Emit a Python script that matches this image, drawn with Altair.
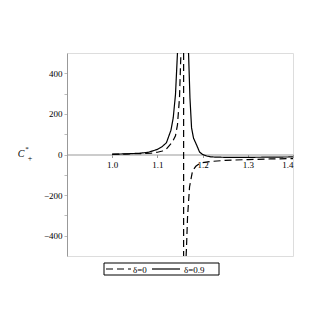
import altair as alt
import pandas as pd

# delta = 0.9 (solid)
solid_left_x = [1.00, 1.03, 1.06, 1.08, 1.10, 1.11, 1.12, 1.13, 1.135, 1.14, 1.1444]
solid_left_y = [1.5, 3, 6, 11, 25, 38, 58, 120, 180, 295, 500]
solid_right_x = [1.1689, 1.172, 1.1756, 1.18, 1.1867, 1.1933, 1.20, 1.21, 1.22, 1.25, 1.30, 1.35, 1.40]
solid_right_y = [500, 280, 131, 80, 47, 12, 0, -8, -12, -14, -14, -13, -12]

# delta = 0 (dashed)
dashed_left_x = [1.00, 1.04, 1.07, 1.0867, 1.10, 1.1111, 1.12, 1.1333, 1.14, 1.1444, 1.1489, 1.152]
dashed_left_y = [1, 3, 5, 7, 11, 17, 27, 62, 92, 146, 280, 500]
dashed_vert_x = [1.158, 1.158]
dashed_vert_y = [500, -500]
dashed_right_x = [1.1635, 1.1644, 1.1667, 1.1711, 1.1778, 1.185, 1.1933, 1.20, 1.22, 1.25, 1.30, 1.35, 1.40]
dashed_right_y = [-500, -456, -308, -160, -80, -58, -45, -40, -34, -29, -25, -22, -20]

series_names = ["δ=0", "δ=0.9"]

rows = []
def add(xs, ys, series, seg):
    for i, (x, y) in enumerate(zip(xs, ys)):
        rows.append({"x": x, "y": y, "series": series, "seg": seg, "i": i})

add(solid_left_x, solid_left_y, series_names[1], "s1")
add(solid_right_x, solid_right_y, series_names[1], "s2")
add(dashed_left_x, dashed_left_y, series_names[0], "d1")
add(dashed_vert_x, dashed_vert_y, series_names[0], "d2")
add(dashed_right_x, dashed_right_y, series_names[0], "d3")
df = pd.DataFrame(rows)

W, H = 226, 203
serif = "Liberation Serif"
DASH = [7, 4]

lines = alt.Chart(df).mark_line(clip=True, color="black", strokeWidth=1.2).encode(
    x=alt.X("x:Q", scale=alt.Scale(domain=[0.9, 1.4], nice=False, zero=False),
            axis=alt.Axis(values=[1.0, 1.1, 1.2, 1.3, 1.4], format=".1f", offset=-H / 2,
                          title=None, grid=False, domainColor="#999999", tickColor="#999999",
                          tickSize=3, labelFont=serif, labelFontSize=9, labelPadding=3,
                          labelColor="black")),
    y=alt.Y("y:Q", scale=alt.Scale(domain=[-500, 500], nice=False),
            axis=alt.Axis(values=[-400, -300, -200, -100, 0, 100, 200, 300, 400],
                          labelExpr="datum.value % 200 == 0 ? datum.label : ''",
                          title=None, grid=False, domainColor="#999999", tickColor="#bbbbbb",
                          tickSize=3, labelFont=serif, labelFontSize=9, labelPadding=2,
                          labelColor="black")),
    strokeDash=alt.StrokeDash("series:N",
                              scale=alt.Scale(domain=series_names, range=[DASH, [1, 0]]),
                              legend=None),
    detail="seg:N",
    order="i:Q",
)

# y-axis title C*_+
tdf = pd.DataFrame({"c": ["C"], "s": ["*"], "p": ["+"]})
tC = alt.Chart(tdf).mark_text(font=serif, fontSize=10, fontStyle="italic", color="black").encode(
    x=alt.value(-46), y=alt.value(101), text="c:N")
tS = alt.Chart(tdf).mark_text(font=serif, fontSize=7, color="black").encode(
    x=alt.value(-40), y=alt.value(96), text="s:N")
tP = alt.Chart(tdf).mark_text(font=serif, fontSize=8, color="black").encode(
    x=alt.value(-37), y=alt.value(106), text="p:N")

# legend box drawn below the plot
ldf = pd.DataFrame({"a": [series_names[0]], "b": [series_names[1]]})
box = alt.Chart(ldf).mark_rect(fill="white", stroke="black", strokeWidth=1).encode(
    x=alt.value(37), x2=alt.value(152), y=alt.value(210), y2=alt.value(222))
sym0 = alt.Chart(ldf).mark_rule(color="black", strokeWidth=1.2, strokeDash=DASH).encode(
    x=alt.value(39), x2=alt.value(64), y=alt.value(216))
sym1 = alt.Chart(ldf).mark_rule(color="black", strokeWidth=1.2).encode(
    x=alt.value(85), x2=alt.value(113), y=alt.value(216))
lab0 = alt.Chart(ldf).mark_text(font=serif, fontSize=9, color="black", align="left",
                                baseline="middle").encode(
    x=alt.value(66), y=alt.value(216.5), text="a:N")
lab1 = alt.Chart(ldf).mark_text(font=serif, fontSize=9, color="black", align="left",
                                baseline="middle").encode(
    x=alt.value(117), y=alt.value(216.5), text="b:N")

chart = alt.layer(lines, tC, tS, tP, box, sym0, sym1, lab0, lab1).properties(
    width=W, height=H,
    autosize=alt.AutoSizeParams(type="none"),
    padding={"left": 59, "top": 45, "right": 20, "bottom": 40},
).configure_view(stroke=None).configure(background="white")

chart.save("out.html", embed_options={"renderer": "svg", "actions": False})
